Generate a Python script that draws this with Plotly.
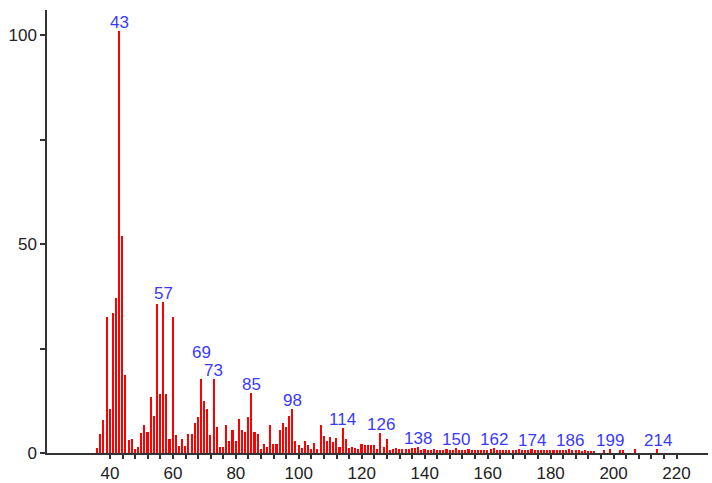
import plotly.graph_objects as go

# Mass spectrum: m/z and relative abundance (%)
mz = [
    36, 37, 38, 39, 40, 41, 42, 43, 44, 45, 46, 47, 48, 49, 50,
    51, 52, 53, 54, 55, 56, 57, 58, 59, 60, 61, 62, 63, 64, 65,
    66, 67, 68, 69, 70, 71, 72, 73, 74, 75, 76, 77, 78, 79, 80,
    81, 82, 83, 84, 85, 86, 87, 88, 89, 90, 91, 92, 93, 94, 95,
    96, 97, 98, 99, 100, 101, 102, 103, 104, 105, 106, 107, 108, 109, 110,
    111, 112, 113, 114, 115, 116, 117, 118, 119, 120, 121, 122, 123, 124, 125,
    126, 127, 128, 129, 130, 131, 132, 133, 134, 135, 136, 137, 138, 139, 140,
    141, 142, 143, 144, 145, 146, 147, 148, 149, 150, 151, 152, 153, 154, 155,
    156, 157, 158, 159, 160, 161, 162, 163, 164, 165, 166, 167, 168, 169, 170,
    171, 172, 173, 174, 175, 176, 177, 178, 179, 180, 181, 182, 183, 184, 185,
    186, 187, 188, 189, 190, 191, 192, 193, 194, 197, 199, 202, 203, 207, 214,
]
abundance = [
    1.2, 4.6, 8.0, 32.6, 10.5, 33.6, 37.0, 101.0, 52.0, 18.7, 3.2, 3.4, 1.0, 1.5, 4.8,
    6.7, 5.0, 13.5, 8.8, 35.6, 14.2, 36.2, 14.2, 3.4, 32.6, 4.4, 1.7, 3.4, 1.7, 4.6,
    4.6, 7.2, 8.6, 17.8, 12.5, 10.5, 4.2, 17.8, 6.3, 1.5, 1.5, 6.7, 2.9, 5.5, 2.8,
    8.2, 5.4, 5.0, 8.5, 14.4, 5.0, 4.5, 1.0, 2.2, 1.5, 6.7, 2.2, 2.2, 5.6, 7.2,
    6.3, 8.8, 10.5, 2.8, 1.9, 1.3, 2.8, 1.9, 1.0, 2.5, 1.0, 6.6, 4.1, 2.8, 3.8,
    2.6, 3.7, 1.5, 6.1, 3.3, 1.3, 1.4, 1.3, 1.0, 2.1, 2.0, 2.0, 2.0, 1.9, 1.0,
    4.8, 1.5, 3.3, 0.7, 1.0, 1.2, 1.0, 0.9, 1.0, 0.9, 1.2, 1.3, 1.5, 0.8, 0.9,
    0.7, 0.8, 0.9, 0.8, 0.7, 0.8, 0.9, 0.8, 0.7, 1.2, 0.8, 0.7, 0.8, 0.9, 0.8,
    0.7, 0.8, 0.8, 0.7, 0.8, 0.9, 1.1, 0.8, 0.7, 0.8, 0.7, 0.8, 0.7, 0.8, 0.9,
    0.8, 0.7, 0.8, 1.0, 0.8, 0.7, 0.8, 0.7, 0.6, 0.7, 0.8, 0.6, 0.7, 0.6, 0.7,
    0.9, 0.6, 0.7, 0.6, 0.5, 0.6, 0.5, 0.4, 0.5, 0.8, 0.9, 0.6, 0.8, 0.9, 1.0,
]

# Peaks that carry an m/z label
labeled_peaks = [43, 57, 69, 73, 85, 98, 114, 126, 138, 150, 162, 174, 186, 199, 214]
# Extra upward shift (px) for labels that would collide with a neighbour
label_lift = {69: 18}

# Tick marks every 4 m/z units, labelled every 20; y ticks every 25, labelled every 50
x_tick_vals = list(range(40, 224, 4))
x_tick_text = [str(v) if v % 20 == 0 else "" for v in x_tick_vals]
y_tick_vals = [0, 25, 50, 75, 100]
y_tick_text = [str(v) if v % 50 == 0 else "" for v in y_tick_vals]

FONT = "Liberation Sans, Arial, sans-serif"
AXIS_COLOR = "#333333"
TEXT_COLOR = "#222222"
X_RANGE = [20, 230]
Y_RANGE = [0, 106]

fig = go.Figure()
fig.add_trace(go.Bar(
    x=mz,
    y=abundance,
    width=0.5,
    marker=dict(color="#ff0000", line=dict(width=0)),
    hoverinfo="x+y",
))

lookup = dict(zip(mz, abundance))
for p in labeled_peaks:
    fig.add_annotation(
        x=p, y=lookup[p],
        text=str(p),
        showarrow=False,
        xanchor="center", yanchor="bottom",
        yshift=label_lift.get(p, 0) - 3,
        font=dict(family=FONT, size=17, color="#3a3aff"),
    )

fig.update_layout(
    width=712, height=483,
    margin=dict(l=47, r=4, t=10, b=30),
    paper_bgcolor="white",
    plot_bgcolor="white",
    showlegend=False,
    bargap=0,
    font=dict(family=FONT, size=17, color=TEXT_COLOR),
    xaxis=dict(
        range=X_RANGE, automargin=False,
        tickmode="array", tickvals=x_tick_vals, ticktext=x_tick_text,
        ticks="outside", ticklen=4, tickwidth=1.5, tickcolor=AXIS_COLOR,
        showline=True, linecolor=AXIS_COLOR, linewidth=1.5,
        showgrid=False, zeroline=False,
        tickfont=dict(family=FONT, size=17, color=TEXT_COLOR),
    ),
    yaxis=dict(
        range=Y_RANGE, automargin=False,
        tickmode="array", tickvals=y_tick_vals, ticktext=y_tick_text,
        ticks="outside", ticklen=5, tickwidth=1.5, tickcolor=AXIS_COLOR,
        showline=True, linecolor=AXIS_COLOR, linewidth=1.5,
        showgrid=False, zeroline=False,
        tickfont=dict(family=FONT, size=17, color=TEXT_COLOR),
    ),
)

fig.write_html("out.html")
